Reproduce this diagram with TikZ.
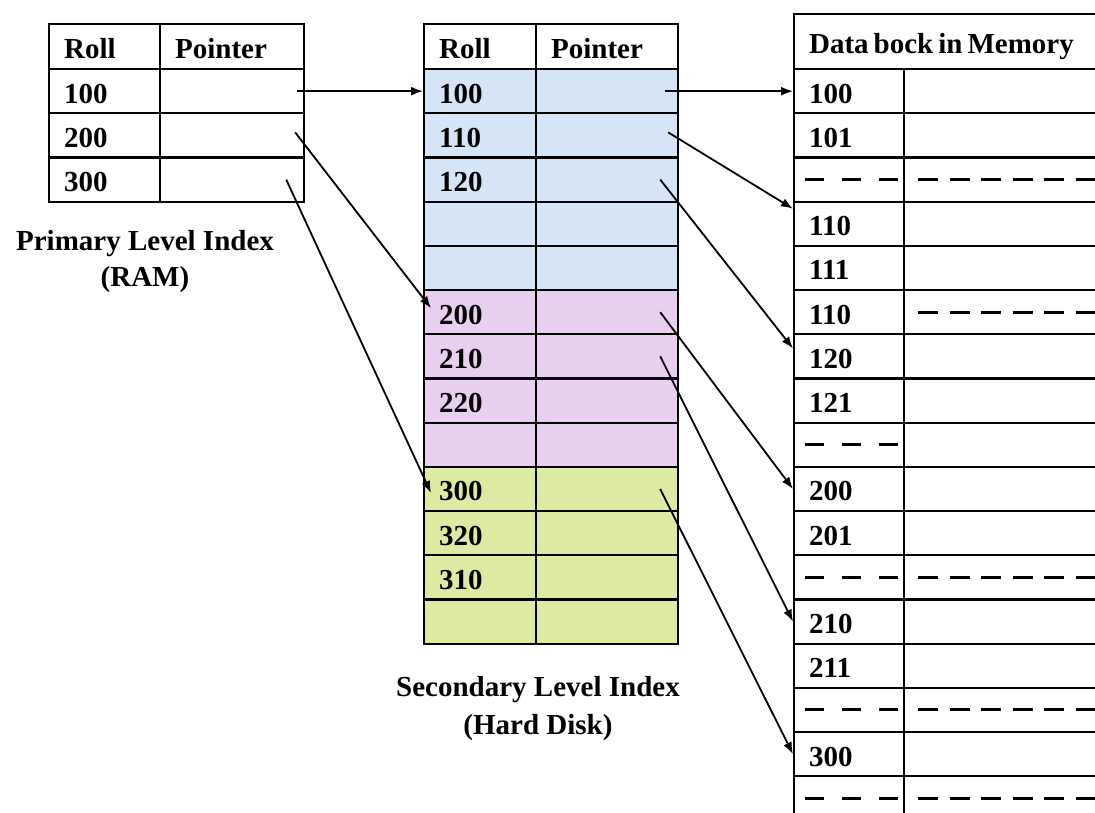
\documentclass[tikz,border=0pt]{standalone}
\usepackage{fontspec}
\setmainfont{Liberation Serif}
\usepackage{tikz}
\usetikzlibrary{arrows.meta}

\definecolor{blurow}{RGB}{214,228,247}
\definecolor{pnkrow}{RGB}{232,207,239}
\definecolor{grnrow}{RGB}{221,234,162}
\newcommand{\cellfont}{\bfseries\fontsize{29}{34}\selectfont}

\tikzset{
    cell/.style={draw=black, line width=2.2pt, anchor=north west, inner xsep=15pt, inner ysep=0pt,
        minimum height=44.2pt, text height=24pt, text depth=0pt, align=left, font=\cellfont},
    ptr/.style={-{Latex[length=12pt,width=9pt]}, line width=1.8pt},
    gap/.style={line width=3pt, dash pattern=on 19pt off 18pt},
    gapwide/.style={line width=3pt, dash pattern=on 20pt off 11.5pt},
    lbl/.style={font=\cellfont, anchor=base},
}

\begin{document}
\begin{tikzpicture}[x=1pt,y=1pt]
    \clip (0,0) rectangle (1095,813);
    \fill[white] (0,0) rectangle (1095,813);

    % primary index (RAM)
    \node[cell, text width=81pt, minimum height=45pt] (lh1) at (48,790) {Roll};
    \node[cell, text width=114pt, minimum height=45pt] (lh2) at (159,790) {Pointer};
    \foreach \i/\r in {1/100,2/200,3/300}{
        \node[cell, text width=81pt] (l\i) at (48,{745-(\i-1)*44.2}) {\r};
        \node[cell, text width=114pt] (lp\i) at (159,{745-(\i-1)*44.2}) {};
    }
    \node[lbl] (primlbl) at (145,562) {Primary Level Index};
    \node[lbl] (ramlbl) at (145,526) {(RAM)};

    % secondary index (hard disk)
    \node[cell, text width=82pt, minimum height=45pt] (sh1) at (423,790) {Roll};
    \node[cell, text width=112pt, minimum height=45pt] (sh2) at (535,790) {Pointer};
    \foreach \i/\r/\c in {1/100/blurow,2/110/blurow,3/120/blurow,4//blurow,5//blurow,
        6/200/pnkrow,7/210/pnkrow,8/220/pnkrow,9//pnkrow,
        10/300/grnrow,11/320/grnrow,12/310/grnrow,13//grnrow}{
        \node[cell, fill=\c, text width=82pt] (s\i) at (423,{745-(\i-1)*44.2}) {\r};
        \node[cell, fill=\c, text width=112pt] (sp\i) at (535,{745-(\i-1)*44.2}) {};
    }
    \node[lbl] (seclbl) at (538,116) {Secondary Level Index};
    \node[lbl] (hdlbl) at (538,78) {(Hard Disk)};

    % data blocks
    \node[cell, text width=297pt, minimum height=55pt] (dh) at (793,800) {\spaceskip=5pt Data bock in Memory};
    \foreach \i/\r in {1/100,2/101,3/,4/110,5/111,6/110,7/120,8/121,9/,
        10/200,11/201,12/,13/210,14/211,15/,16/300,17/}{
        \node[cell, text width=80pt] (d\i) at (793,{745-(\i-1)*44.2}) {\r};
        \node[cell, text width=177pt] (dv\i) at (903,{745-(\i-1)*44.2}) {};
    }
    \foreach \i in {3,9,12,15,17}
        \draw[gap] ([xshift=12pt]d\i.west) -- ([xshift=-5pt]d\i.east);
    \foreach \i in {3,6,12,15,17}
        \draw[gapwide] ([xshift=15pt]dv\i.west) -- (dv\i.east);

    % pointers
    \draw[ptr] ([xshift=-8pt]lp1.east) -- (s1.west);
    \draw[ptr] ([xshift=-10pt,yshift=3pt]lp2.east) -- ([xshift=8pt,yshift=4pt]s6.west);
    \draw[ptr] ([xshift=-19pt]lp3.east) -- ([xshift=8pt,yshift=-4pt]s10.west);
    \draw[ptr] ([xshift=-14pt]sp1.east) -- (d1.west);
    \draw[ptr] ([xshift=-11pt,yshift=3pt]sp2.east) -- (d4.165);
    \draw[ptr] ([xshift=-19pt]sp3.east) -- (d7.172);
    \draw[ptr] ([xshift=-19pt]sp6.east) -- (d10.west);
    \draw[ptr] ([xshift=-19pt]sp7.east) -- (d13.west);
    \draw[ptr] ([xshift=-19pt]sp10.east) -- (d16.west);
\end{tikzpicture}
\end{document}
